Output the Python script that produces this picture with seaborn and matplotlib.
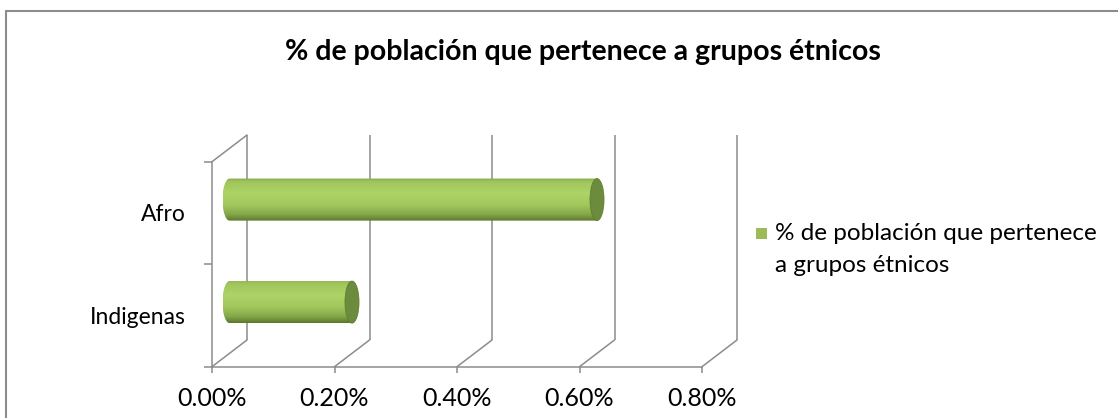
import numpy as np
import pandas as pd
import matplotlib
matplotlib.use("Agg")
import matplotlib.pyplot as plt
import matplotlib.colors as mcolors
from matplotlib.path import Path
from matplotlib.patches import PathPatch, Ellipse, Rectangle
from matplotlib.lines import Line2D
import seaborn as sns

# ---- data ----
categories = ["Afro", "Indigenas"]
values = [0.60, 0.20]          # percent
x_ticks = [0.0, 0.2, 0.4, 0.6, 0.8]
title = "% de población que pertenece a grupos étnicos"
series_name = "% de población que pertenece\na grupos étnicos"

sns.set_style("white")
plt.rcParams["font.family"] = ["Lato", "DejaVu Sans"]

W, H = 1118, 418
fig = plt.figure(figsize=(W / 100, H / 100), dpi=100)

# axes covering the whole pseudo-3D box (front plane + back wall)
x_left_px, x_right_px = 212, 737
y_bot_px, y_top_px = 366.7, 135
ax = fig.add_axes([x_left_px / W, 1 - y_bot_px / H,
                   (x_right_px - x_left_px) / W, (y_bot_px - y_top_px) / H])

px_per_x = 490 / 0.8
px_per_y = 102.5
dx = 35 / px_per_x
dy = 26.7 / px_per_y

df = pd.DataFrame({"cat": categories, "val": values})
sns.barplot(data=df, x="val", y="cat", orient="h", width=0.41, ax=ax,
            color="#9bbb59", saturation=1)

xmax = 0.8 + dx
ax.set_xlim(0, xmax)
ax.set_ylim(1.5, -0.5 - dy)

grid_c = "#8c8c8c"
lw = 1.1
xmin_tick, xmax_tick = x_ticks[0], x_ticks[-1]
# back wall verticals and floor diagonals
for v in x_ticks:
    ax.plot([v + dx, v + dx], [1.5 - dy, -0.5 - dy], color=grid_c, lw=lw,
            zorder=1, clip_on=False, solid_capstyle="butt")
    ax.plot([v, v + dx], [1.5, 1.5 - dy], color=grid_c, lw=lw, zorder=1,
            clip_on=False)
# left wall top diagonal
ax.plot([0, dx], [-0.5, -0.5 - dy], color=grid_c, lw=lw, zorder=1, clip_on=False)

for s in ["top", "right"]:
    ax.spines[s].set_visible(False)
ax.spines["bottom"].set_bounds(xmin_tick, xmax_tick)
ax.spines["left"].set_bounds(-0.5, 1.5)
for s in ["bottom", "left"]:
    ax.spines[s].set_color(grid_c)
    ax.spines[s].set_linewidth(lw)

ax.set_xticks(x_ticks)
ax.set_xticklabels([f"{v:.2f}%" for v in x_ticks])
ax.tick_params(axis="x", length=4.5, width=lw, color=grid_c, pad=10,
               labelsize=18, labelcolor="black", bottom=True)
ax.set_yticks([0, 1])
ax.set_yticklabels(categories)
ax.tick_params(axis="y", which="major", length=0, pad=19, labelsize=16.5,
               labelcolor="black")
ax.set_yticks([-0.5, 0.5, 1.5], minor=True)
ax.tick_params(axis="y", which="minor", length=5.5, width=lw, color=grid_c, left=True)
ax.set_xlabel("")
ax.set_ylabel("")
ax.grid(False)

# cylinder rendering of the seaborn bars
stops = [(0.0, "#84a64a"), (0.07, "#9fc45b"), (0.35, "#aed468"),
         (0.62, "#a2c85d"), (0.85, "#84a748"), (1.0, "#5c782e")]
cmap = mcolors.LinearSegmentedColormap.from_list("cyl", stops)
grad = np.linspace(0, 1, 200).reshape(-1, 1)
a = 7 / px_per_x  # cap half-width in data units
ox, oy = dx / 2, -dy / 2

for p in list(ax.patches):
    x0 = p.get_x() + ox
    w = p.get_width()
    y0 = p.get_y() + oy
    h = p.get_height()
    x1 = x0 + w
    yc = y0 + h / 2
    p.set_visible(False)
    t = np.linspace(np.pi / 2, 3 * np.pi / 2, 40)
    xs = [x1, x0] + list(x0 + a * np.cos(t)) + [x0, x1]
    ys = [y0, y0] + list(yc - (h / 2) * np.sin(t)) + [y0 + h, y0 + h]
    verts = list(zip(xs, ys)) + [(x1, y0)]
    codes = [Path.MOVETO] + [Path.LINETO] * (len(verts) - 2) + [Path.CLOSEPOLY]
    clip = PathPatch(Path(verts, codes), transform=ax.transData,
                     facecolor="none", edgecolor="none")
    ax.add_patch(clip)
    im = ax.imshow(grad, cmap=cmap, aspect="auto", origin="upper",
                   extent=(x0 - a, x1, y0 + h, y0), zorder=3,
                   interpolation="bilinear")
    im.set_clip_path(clip)
    cap = Ellipse((x1, yc), 2 * a, h, facecolor="#6c8b3c",
                  edgecolor="#5f7d32", lw=0.6, zorder=4)
    ax.add_patch(cap)

ax.set_xlim(0, xmax)
ax.set_ylim(1.5, -0.5 - dy)

# title
fig.text(583 / W, 1 - 52 / H, title, ha="center", va="center",
         fontsize=20.5, fontweight="bold", color="black")

# legend (manual, square aligned with first text line)
fig.add_artist(Rectangle((756 / W, 1 - 239 / H), 11 / W, 11 / H,
                         transform=fig.transFigure, facecolor="#9bbb59",
                         edgecolor="none"))
lines = series_name.split("\n")
fig.text(775 / W, 1 - 233 / H, lines[0], ha="left", va="center",
         fontsize=17.5, color="black")
fig.text(775 / W, 1 - 266 / H, lines[1], ha="left", va="center",
         fontsize=17.5, color="black")

# outer chart border
fig.add_artist(Line2D([6 / W, 1], [1 - 11 / H, 1 - 11 / H],
                      transform=fig.transFigure, color="#8c8c8c", lw=1.5))
fig.add_artist(Line2D([6 / W, 6 / W], [0, 1 - 11 / H],
                      transform=fig.transFigure, color="#8c8c8c", lw=1.5))

fig.savefig("out.png", dpi=100)
